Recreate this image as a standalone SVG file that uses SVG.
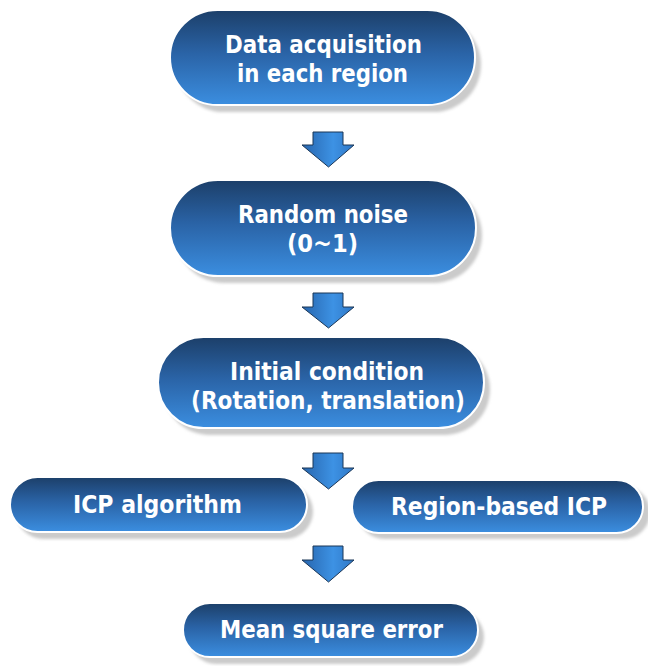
<svg xmlns="http://www.w3.org/2000/svg" width="648" height="666" viewBox="0 0 648 666">
  <defs>
    <linearGradient id="pillFill" x1="0" y1="0" x2="0" y2="1">
      <stop offset="0" stop-color="#1c3f69"/>
      <stop offset="0.45" stop-color="#2a63a6"/>
      <stop offset="1" stop-color="#3b8ee0"/>
    </linearGradient>
    <linearGradient id="arrowFill" x1="0" y1="0" x2="1" y2="0">
      <stop offset="0" stop-color="#2765ad"/>
      <stop offset="0.6" stop-color="#3d92e4"/>
      <stop offset="1" stop-color="#2f77c6"/>
    </linearGradient>
    <filter id="soft" x="-10%" y="-20%" width="120%" height="140%">
      <feGaussianBlur stdDeviation="1.5"/>
    </filter>
  </defs>
  <style>
    .shadow { fill: #cbcbcb; filter: url(#soft); }
    .pill { fill: url(#pillFill); stroke: #ffffff; stroke-width: 2; }
    .label { font-family: "DejaVu Sans", Verdana, sans-serif; font-weight: bold; font-size: 24px; fill: #ffffff; text-anchor: middle; }
    .arrow { fill: url(#arrowFill); stroke: #1b3656; stroke-width: 1; stroke-linejoin: miter; }
  </style>

  <rect width="648" height="666" fill="#ffffff"/>

  <g id="node-acquisition">
    <rect class="shadow" x="176" y="17" width="305" height="95" rx="47.5"/>
    <rect class="pill" x="170" y="10" width="305" height="95" rx="47.5"/>
    <text class="label" x="323.5" y="53" textLength="197" lengthAdjust="spacingAndGlyphs">Data acquisition</text>
    <text class="label" x="322.5" y="82" textLength="171" lengthAdjust="spacingAndGlyphs">in each region</text>
  </g>

  <g id="node-noise">
    <rect class="shadow" x="176" y="187" width="306" height="96" rx="48"/>
    <rect class="pill" x="170" y="180" width="306" height="96" rx="48"/>
    <text class="label" x="323" y="223" textLength="170" lengthAdjust="spacingAndGlyphs">Random noise</text>
    <text class="label" x="322.5" y="252" textLength="71" lengthAdjust="spacingAndGlyphs">(0~1)</text>
  </g>

  <g id="node-initial">
    <rect class="shadow" x="164" y="344" width="326" height="91" rx="45.5"/>
    <rect class="pill" x="158" y="337" width="326" height="91" rx="45.5"/>
    <text class="label" x="327" y="380" textLength="194" lengthAdjust="spacingAndGlyphs">Initial condition</text>
    <text class="label" x="328" y="409" textLength="274" lengthAdjust="spacingAndGlyphs">(Rotation, translation)</text>
  </g>

  <g id="node-icp">
    <rect class="shadow" x="16" y="484" width="297" height="55" rx="27.5"/>
    <rect class="pill" x="10" y="477" width="297" height="55" rx="27.5"/>
    <text class="label" x="157.5" y="513" textLength="169" lengthAdjust="spacingAndGlyphs">ICP algorithm</text>
  </g>

  <g id="node-region-icp">
    <rect class="shadow" x="358" y="486" width="292" height="53" rx="26.5"/>
    <rect class="pill" x="352" y="480" width="291" height="53" rx="26.5"/>
    <text class="label" x="499" y="515" textLength="216" lengthAdjust="spacingAndGlyphs">Region-based ICP</text>
  </g>

  <g id="node-mse">
    <rect class="shadow" x="189" y="610" width="295" height="54" rx="27"/>
    <rect class="pill" x="183" y="603" width="295" height="54" rx="27"/>
    <text class="label" x="331.5" y="638" textLength="223" lengthAdjust="spacingAndGlyphs">Mean square error</text>
  </g>

  <g id="connectors">
    <polygon class="arrow" points="313,132 343,132 343,145 354,145 328.5,167 302,145 313,145"/>
    <polygon class="arrow" points="313,293 343,293 343,307 354,307 328.5,328 302,307 313,307"/>
    <polygon class="arrow" points="313,453 343,453 343,468 354,468 328.5,489 302,468 313,468"/>
    <polygon class="arrow" points="313,546 343,546 343,560 354,560 328.5,582 302,560 313,560"/>
  </g>
</svg>
